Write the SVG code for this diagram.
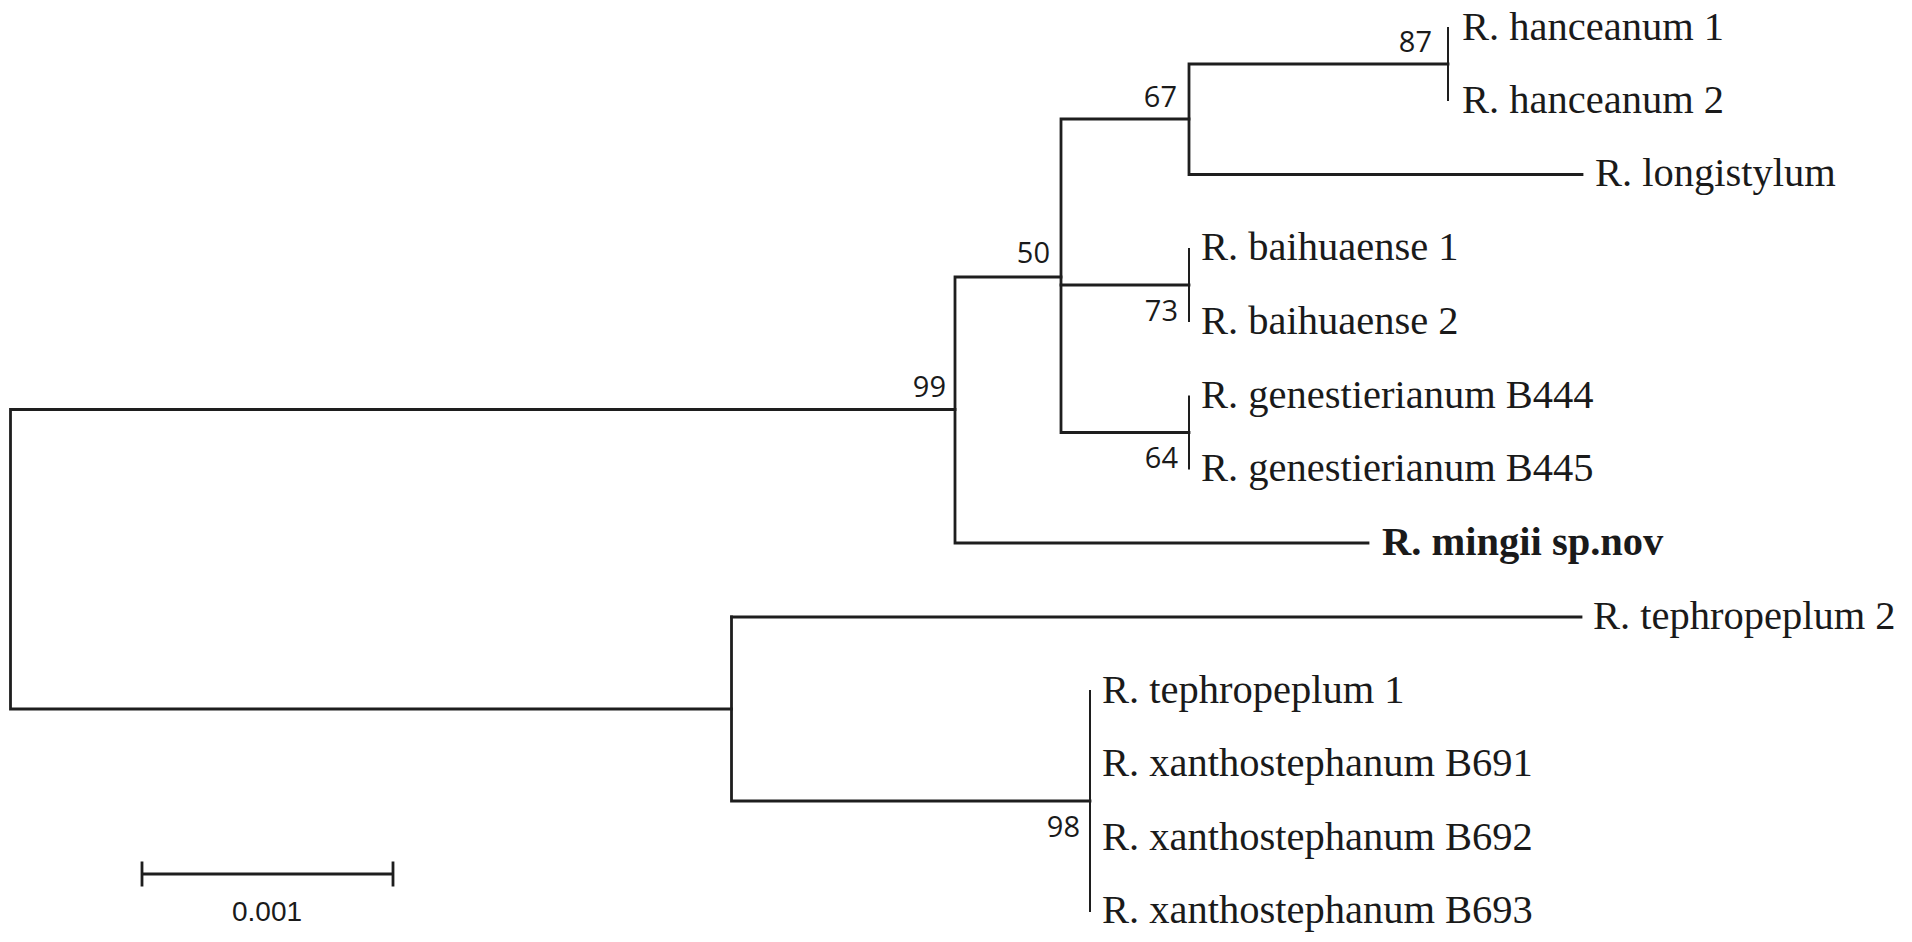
<svg xmlns="http://www.w3.org/2000/svg" width="1912" height="942" viewBox="0 0 1912 942">
<style>
.br{fill:none;stroke:#1e1e1e;stroke-width:2.8;stroke-linecap:square}
.z{fill:none;stroke:#1e1e1e;stroke-width:2}
.t{font-family:"Liberation Serif","Times New Roman",serif;font-size:40.5px;fill:#1a1a1a}
.b{font-weight:bold}
.bs{font-family:"Open Sans","Noto Sans",sans-serif;font-size:29px;fill:#1a1a1a;text-anchor:end}
.sc{font-family:"Liberation Sans",Arial,sans-serif;font-size:28px;fill:#1a1a1a;text-anchor:middle}
</style>
<rect width="1912" height="942" fill="#fff"/>
<g id="connectors">
<path class="br" d="M955,409.5 H10.5 V709 H731.5"/>
<path class="br" d="M1061,277 H955 V543 H1368"/>
<path class="br" d="M1189,119 H1061 V432.5 H1189"/>
<path class="br" d="M1061,285 H1189"/>
<path class="br" d="M1448,64 H1189 V174.5 H1582"/>
<path class="br" d="M731.5,617 V801 H1090"/>
<path class="br" d="M731.5,617 H1581"/>
<path class="z" d="M1448,27 V101"/>
<path class="z" d="M1189,248 V322"/>
<path class="z" d="M1189,395.5 V469.5"/>
<path class="z" d="M1090,690 V912"/>
</g>
<g id="support">
<text class="bs" x="1432" y="52">87</text>
<text class="bs" x="1177" y="107">67</text>
<text class="bs" x="1050" y="263">50</text>
<text class="bs" x="1178" y="321">73</text>
<text class="bs" x="1178" y="468">64</text>
<text class="bs" x="946" y="397">99</text>
<text class="bs" x="1080" y="837">98</text>
</g>
<g id="leaf-hanceanum1"><text class="t" x="1462" y="40">R. hanceanum 1</text></g>
<g id="leaf-hanceanum2"><text class="t" x="1462" y="113">R. hanceanum 2</text></g>
<g id="leaf-longistylum"><text class="t" x="1595" y="186">R. longistylum</text></g>
<g id="leaf-baihuaense1"><text class="t" x="1201" y="260">R. baihuaense 1</text></g>
<g id="leaf-baihuaense2"><text class="t" x="1201" y="334">R. baihuaense 2</text></g>
<g id="leaf-genestierianumB444"><text class="t" x="1201" y="408">R. genestierianum B444</text></g>
<g id="leaf-genestierianumB445"><text class="t" x="1201" y="481">R. genestierianum B445</text></g>
<g id="leaf-mingii"><text class="t b" x="1382" y="555">R. mingii sp.nov</text></g>
<g id="leaf-tephropeplum2"><text class="t" x="1593" y="629">R. tephropeplum 2</text></g>
<g id="leaf-tephropeplum1"><text class="t" x="1102" y="703">R. tephropeplum 1</text></g>
<g id="leaf-xanthostephanumB691"><text class="t" x="1102" y="776">R. xanthostephanum B691</text></g>
<g id="leaf-xanthostephanumB692"><text class="t" x="1102" y="850">R. xanthostephanum B692</text></g>
<g id="leaf-xanthostephanumB693"><text class="t" x="1102" y="923">R. xanthostephanum B693</text></g>
<g id="scalebar">
<path class="br" d="M142,874 H393 M142,863 V885 M393,863 V885" stroke-linecap="butt"/>
<text class="sc" x="267" y="921">0.001</text>
</g>
</svg>
